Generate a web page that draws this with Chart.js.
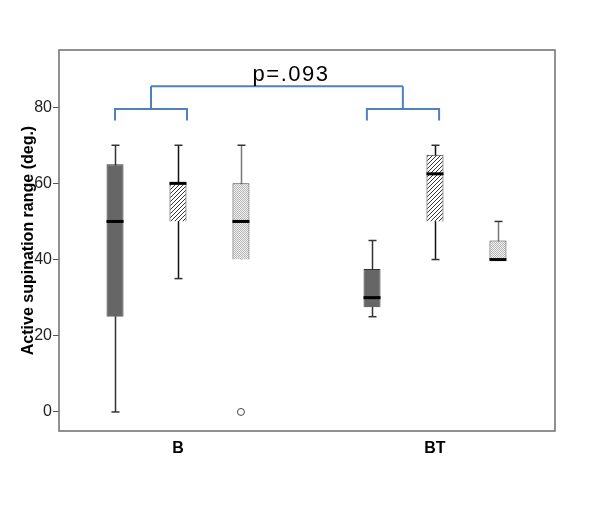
<!DOCTYPE html>
<html>
<head>
<meta charset="utf-8">
<script src="https://cdn.jsdelivr.net/npm/chart.js@4"></script>
<style>
  body { margin: 0; background: #fff; }
  #wrap { width: 600px; height: 510px; }
</style>
</head>
<body>
<div id="wrap"><canvas id="ctx" width="600" height="510"></canvas></div>
<script>
// groups on the x axis (1 = B, 2 = BT)
const groupLabels = ["B", "BT"];
const groupX = [1, 2];
const yTicks = [0, 20, 40, 60, 80];

// box plot values per series, one entry per group
const darkQ1 = [25, 27.5], darkQ3 = [65, 37.5], darkMed = [50, 30], darkLo = [0, 25], darkHi = [70, 45];
const hatchQ1 = [50, 50], hatchQ3 = [60, 67.5], hatchMed = [60, 62.5], hatchLo = [35, 40], hatchHi = [70, 70];
const dotQ1 = [40, 40], dotQ3 = [60, 45], dotMed = [50, 40], dotLo = [40, 40], dotHi = [70, 50];
const dotOutliers = [[0], []];

// significance bracket (x in group units, y in degrees)
const bracketB = [0.755, 1.035];
const bracketBT = [1.735, 2.016];
const bracketStem = [0.895, 1.875];
const bracketLow = 76.5, bracketMid = 79.5, bracketTop = 85.5;
const pText = "p=.093";

function makePattern(kind) {
  var c = document.createElement("canvas");
  var g = c.getContext("2d");
  if (kind == "hatch") {
    c.width = 4; c.height = 4;
    g.fillStyle = "#fff"; g.fillRect(0, 0, 4, 4);
    g.strokeStyle = "#333"; g.lineWidth = 1;
    g.beginPath();
    g.moveTo(-1, 5); g.lineTo(5, -1);
    g.moveTo(-1, 1); g.lineTo(1, -1);
    g.moveTo(3, 5); g.lineTo(5, 3);
    g.stroke();
  } else {
    c.width = 2; c.height = 2;
    g.fillStyle = "#f4f4f4"; g.fillRect(0, 0, 2, 2);
    g.fillStyle = "#b4b4b4";
    g.fillRect(0, 0, 1, 1); g.fillRect(1, 1, 1, 1);
  }
  return g.createPattern(c, "repeat");
}

function boxData(q1, q3) {
  return groupX.map((x, i) => ({x: x, y: [q1[i], q3[i]]}));
}

const series = [
  {med: darkMed, lo: darkLo, hi: darkHi, q1: darkQ1, q3: darkQ3, whisker: "#333", out: [[], []]},
  {med: hatchMed, lo: hatchLo, hi: hatchHi, q1: hatchQ1, q3: hatchQ3, whisker: "#111", out: [[], []]},
  {med: dotMed, lo: dotLo, hi: dotHi, q1: dotQ1, q3: dotQ3, whisker: "#777", out: dotOutliers}
];

const boxExtras = {
  id: "boxExtras",
  beforeDatasetsDraw(chart) {
    // whiskers go under the boxes
    const ctx = chart.ctx, ys = chart.scales.y;
    ctx.save();
    series.forEach((s, d) => {
      chart.getDatasetMeta(d).data.forEach((bar, i) => {
        const x = Math.round(bar.x) + 0.5;
        ctx.strokeStyle = s.whisker;
        ctx.lineWidth = 1.5;
        ctx.beginPath();
        ctx.moveTo(x, ys.getPixelForValue(s.hi[i]));
        ctx.lineTo(x, ys.getPixelForValue(s.lo[i]));
        ctx.stroke();
        ctx.strokeStyle = "#333";
        [s.hi[i], s.lo[i]].forEach(v => {
          if (v == s.q1[i] || v == s.q3[i]) return;
          const y = ys.getPixelForValue(v);
          ctx.beginPath();
          ctx.moveTo(x - 4, y); ctx.lineTo(x + 4, y);
          ctx.stroke();
        });
      });
    });
    ctx.restore();
  },
  afterDatasetsDraw(chart) {
    const ctx = chart.ctx, ys = chart.scales.y, xs = chart.scales.x;
    ctx.save();
    series.forEach((s, d) => {
      chart.getDatasetMeta(d).data.forEach((bar, i) => {
        const y = ys.getPixelForValue(s.med[i]);
        ctx.fillStyle = "#000";
        ctx.fillRect(bar.x - bar.width / 2, y - 1.5, bar.width, 3);
        s.out[i].forEach(v => {
          ctx.beginPath();
          ctx.arc(bar.x, ys.getPixelForValue(v), 3.5, 0, Math.PI * 2);
          ctx.fillStyle = "#fff"; ctx.fill();
          ctx.strokeStyle = "#444"; ctx.lineWidth = 1; ctx.stroke();
        });
      });
    });

    // bracket
    ctx.strokeStyle = "#4f81bd";
    ctx.lineWidth = 2;
    const px = v => xs.getPixelForValue(v);
    const py = v => ys.getPixelForValue(v);
    [bracketB, bracketBT].forEach((br, k) => {
      ctx.beginPath();
      ctx.moveTo(px(br[0]), py(bracketLow));
      ctx.lineTo(px(br[0]), py(bracketMid));
      ctx.lineTo(px(br[1]), py(bracketMid));
      ctx.lineTo(px(br[1]), py(bracketLow));
      ctx.moveTo(px(bracketStem[k]), py(bracketMid));
      ctx.lineTo(px(bracketStem[k]), py(bracketTop));
      ctx.stroke();
    });
    ctx.beginPath();
    ctx.moveTo(px(bracketStem[0]), py(bracketTop));
    ctx.lineTo(px(bracketStem[1]), py(bracketTop));
    ctx.stroke();
    ctx.fillStyle = "#000";
    ctx.font = "22px 'Liberation Sans', Arial, sans-serif";
    ctx.letterSpacing = "1.5px";
    ctx.textAlign = "center";
    ctx.textBaseline = "alphabetic";
    ctx.fillText(pText, px(1.436) + 1, py(bracketTop) - 5);
    ctx.letterSpacing = "0px";

    // frame
    const a = chart.chartArea;
    ctx.strokeStyle = "#6e6e6e";
    ctx.lineWidth = 1.5;
    ctx.strokeRect(a.left, a.top, a.right - a.left, a.bottom - a.top);
    ctx.restore();
  }
};

new Chart("ctx", {
  type: "bar",
  data: {
    datasets: [
      {data: boxData(darkQ1, darkQ3), backgroundColor: "#666666", borderColor: "#333", borderWidth: 1},
      {data: boxData(hatchQ1, hatchQ3), backgroundColor: makePattern("hatch"), borderColor: "#333", borderWidth: 1},
      {data: boxData(dotQ1, dotQ3), backgroundColor: makePattern("dot"), borderColor: "#444", borderWidth: 1}
    ]
  },
  options: {
    responsive: false,
    animation: false,
    layout: {padding: {top: 50, right: 45, left: 0, bottom: 0}},
    categoryPercentage: 0.735,
    barPercentage: 0.27,
    plugins: {legend: {display: false}, tooltip: {enabled: false}},
    scales: {
      x: {
        type: "linear",
        offset: false,
        min: 0.537,
        max: 2.467,
        afterBuildTicks: s => { s.ticks = groupX.map(v => ({value: v})); },
        afterFit: s => { s.height = 79; },
        grid: {display: false},
        border: {display: false},
        ticks: {
          callback: (v) => groupLabels[groupX.indexOf(v)],
          color: "#000",
          padding: 0,
          font: {family: "'Liberation Sans', Arial", size: 16, weight: "bold"}
        }
      },
      y: {
        min: -5,
        max: 95,
        afterBuildTicks: s => { s.ticks = yTicks.map(v => ({value: v})); },
        afterFit: s => { s.width = 59; },
        grid: {display: true, drawOnChartArea: false, drawTicks: true, tickLength: 6, color: "#555"},
        border: {display: false},
        title: {
          display: true,
          text: "Active supination range (deg.)",
          color: "#000",
          padding: {top: 19, bottom: 0},
          font: {family: "'Liberation Sans', Arial", size: 16, weight: "bold"}
        },
        ticks: {
          color: "#222",
          padding: 1,
          font: {family: "'Liberation Sans', Arial", size: 16}
        }
      }
    }
  },
  plugins: [boxExtras]
});
</script>
</body>
</html>
